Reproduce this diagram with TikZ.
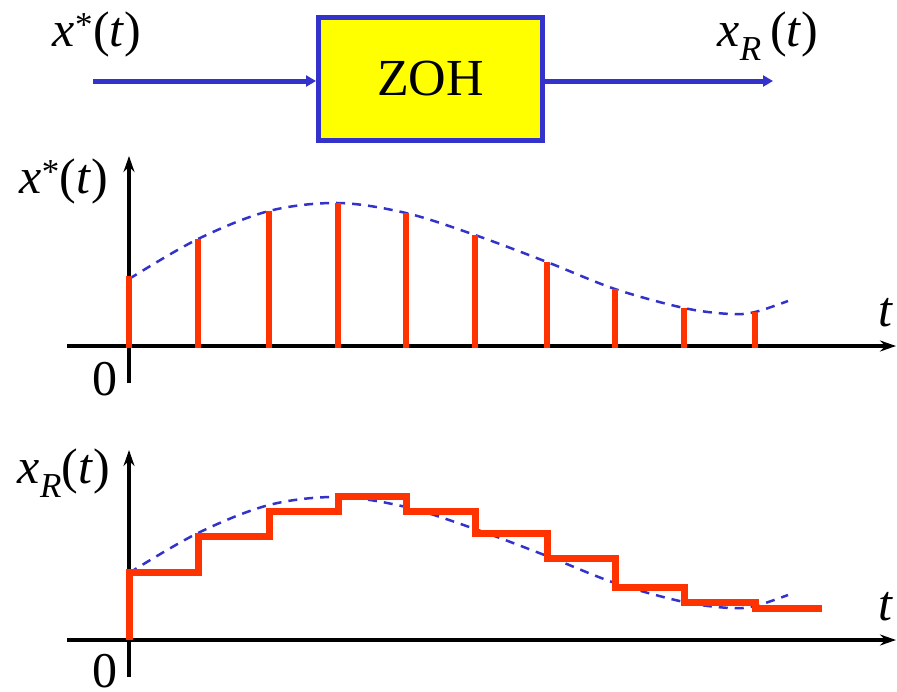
\documentclass[tikz,border=0pt]{standalone}
\usepackage{fontspec}
\setmainfont{Liberation Serif}
\usetikzlibrary{arrows.meta}
\definecolor{dblue}{HTML}{3333CC}
\definecolor{zyellow}{HTML}{FFFF00}
\definecolor{sred}{HTML}{FF3300}
\tikzset{
  lbl/.style={inner sep=0pt, font=\fontsize{50}{52}\selectfont},
  axis/.style={line width=3.5pt, black, -{Stealth[length=16pt,width=11pt]}},
  sig/.style={line width=5pt, dblue, -{Triangle[length=10pt,width=11pt]}},
  stem/.style={line width=5.5pt, sred},
  stair/.style={line width=7pt, sred, line join=miter},
  env/.style={line width=2.5pt, dblue, dash pattern=on 9pt off 7pt},
  zohbox/.style={draw=dblue, line width=5pt, fill=zyellow, minimum width=224pt, minimum height=123pt, inner sep=0pt, font=\fontsize{52}{54}\selectfont}
}
\begin{document}
\begin{tikzpicture}[x=1pt,y=-1pt]
\useasboundingbox (0,0) rectangle (897,691);
% top block diagram
\node[zohbox] (zoh) at (430.5,79) {ZOH};
\coordinate (in) at (93,81);
\coordinate (out) at (773,81);
\draw[sig] (in) -- (zoh.west |- in);
\draw[sig] (zoh.east |- out) -- (out);
\node[lbl] (lin) at (97,34) {\textit{x}\textsuperscript{*}(\textit{t})};
\node[lbl] (lout) at (768,36) {\textit{x}\textsubscript{\textit{R}}\,(\textit{t})};
% plot 1
\coordinate (y1b) at (129,383);
\coordinate (y1t) at (129,156);
\coordinate (x1l) at (67,346);
\coordinate (x1r) at (896,346);
\draw[env] plot[smooth, tension=0.55] coordinates {(129,279) (198,239) (269,211) (338,203) (406,213) (475,235) (547,262) (615,289) (684,308) (730,314) (755,312) (788,301)};
\draw[axis] (x1l) -- (x1r);
\draw[axis] (y1b) -- (y1t);
\foreach \x/\y in {129/276,198/239,269/211,338/203,406/213,475/235,547/262,615/289,684/308,755/312}
  \draw[stem] (\x,348) -- (\x,\y);
\node[lbl] (l1y) at (64,181) {\textit{x}\textsuperscript{*}(\textit{t})};
\node[lbl] (l1o) at (105,379) {0};
\node[lbl] (l1t) at (886,313) {\textit{t}};
% plot 2
\coordinate (y2b) at (129,677);
\coordinate (y2t) at (129,450);
\coordinate (x2l) at (67,640);
\coordinate (x2r) at (896,640);
\draw[env] plot[smooth, tension=0.55] coordinates {(129,573) (198,533) (269,505) (338,497) (406,507) (475,529) (547,556) (615,583) (684,602) (730,608) (755,606) (788,595)};
\draw[axis] (x2l) -- (x2r);
\draw[axis] (y2b) -- (y2t);
\draw[stair] (129,640) -- (129,572) -- (198,572) -- (198,536) -- (269,536) -- (269,511) -- (338,511) -- (338,496) -- (406,496) -- (406,511) -- (475,511) -- (475,533) -- (547,533) -- (547,558) -- (615,558) -- (615,587) -- (684,587) -- (684,602) -- (755,602) -- (755,608) -- (822,608);
\node[lbl] (l2y) at (64,473) {\textit{x}\textsubscript{\textit{R}}(\textit{t})};
\node[lbl] (l2o) at (105,671) {0};
\node[lbl] (l2t) at (886,607) {\textit{t}};
\end{tikzpicture}
\end{document}
